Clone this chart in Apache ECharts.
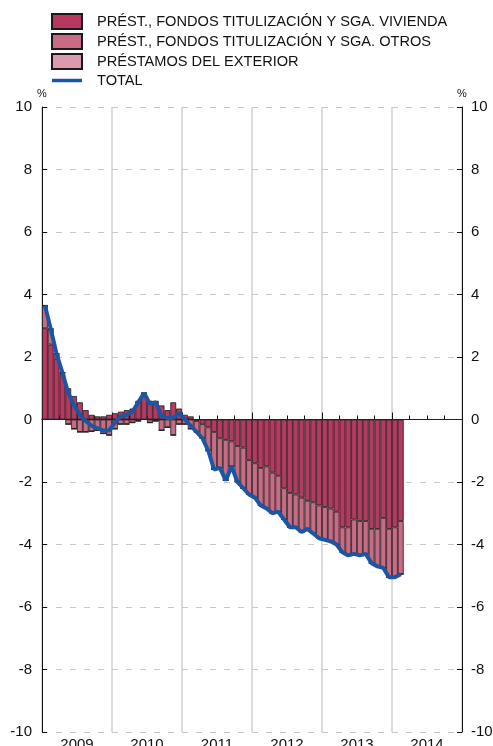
<!DOCTYPE html>
<html>
<head>
<meta charset="utf-8">
<script src="https://cdn.jsdelivr.net/npm/echarts@6/dist/echarts.min.js"></script>
<style>
html,body{margin:0;padding:0;background:#fff;}
#chart{width:493px;height:746px;}
</style>
</head>
<body>
<div id="chart"></div>
<script>
// ---- DATA ----
const years = ['2009', '2010', '2011', '2012', '2013', '2014'];
const months = [];
years.forEach(y => { for (let m = 1; m <= 12; m++) months.push(y + '-' + (m < 10 ? '0' + m : m)); });

const vivienda = [
  2.92, 2.40, 1.95, 1.45, 1.00, 0.75, 0.55, 0.30, 0.15, 0.10, 0.10, 0.15,
  0.20, 0.25, 0.30, 0.35, 0.60, 0.75, 0.60, 0.60, 0.45, 0.30, 0.55, 0.35,
  0.15, 0.10, -0.05, -0.15, -0.25, -0.40, -0.60, -0.65, -0.70, -0.85, -0.90, -1.30,
  -1.40, -1.55, -1.50, -1.70, -1.80, -2.20, -2.35, -2.40, -2.50, -2.60, -2.65, -2.75,
  -2.80, -2.85, -2.95, -3.45, -3.45, -3.20, -3.25, -3.25, -3.50, -3.50, -3.15, -3.50,
  -3.45, -3.25
];
const otros = [
  0.73, 0.50, 0.15, 0.05, -0.15, -0.30, -0.40, -0.40, -0.38, -0.35, -0.45, -0.50,
  -0.30, -0.15, -0.15, -0.10, -0.05, 0.10, -0.10, -0.05, -0.35, -0.25, -0.50, -0.15,
  -0.15, -0.30, -0.35, -0.45, -0.75, -1.20, -0.95, -1.30, -0.80, -1.15, -1.30, -1.10,
  -1.10, -1.20, -1.35, -1.30, -1.15, -1.00, -1.10, -1.05, -1.10, -0.90, -1.00, -1.05,
  -1.05, -1.05, -1.05, -0.80, -0.90, -1.10, -1.10, -1.05, -1.10, -1.20, -1.60, -1.55,
  -1.60, -1.70
];
const exterior = [
  0, 0, 0, 0, 0, 0, 0, 0, 0, 0, 0, 0,
  0, 0, 0, 0, 0, 0, 0, 0, 0, 0, 0, 0,
  0, 0, 0, 0, 0, 0, 0, 0, 0, 0, 0, 0,
  0, 0, 0, 0, 0, 0, 0, 0, 0, 0, 0, 0,
  0, 0, 0, 0, 0, 0, 0, 0, 0, 0, 0, 0,
  0, 0
];
const total = [
  3.65, 2.90, 2.10, 1.50, 0.85, 0.45, 0.15, -0.05, -0.20, -0.28, -0.35, -0.35,
  -0.10, 0.10, 0.15, 0.25, 0.55, 0.85, 0.50, 0.55, 0.10, 0.05, 0.05, 0.20,
  0.00, -0.20, -0.40, -0.60, -1.00, -1.60, -1.55, -1.95, -1.50, -2.00, -2.20, -2.40,
  -2.50, -2.75, -2.85, -3.00, -2.95, -3.20, -3.45, -3.45, -3.60, -3.50, -3.65, -3.80,
  -3.85, -3.90, -4.00, -4.25, -4.35, -4.30, -4.35, -4.30, -4.60, -4.70, -4.75, -5.05,
  -5.05, -4.95
];
const seriesNames = [
  'PRÉST., FONDOS TITULIZACIÓN Y SGA. VIVIENDA',
  'PRÉST., FONDOS TITULIZACIÓN Y SGA. OTROS',
  'PRÉSTAMOS DEL EXTERIOR',
  'TOTAL'
];
const yTicks = { min: -10, max: 10, step: 2 };

// ---- CHART ----
const FONT = "'Liberation Sans', Arial, Helvetica, sans-serif";
const chart = echarts.init(document.getElementById('chart'), null, { renderer: 'canvas' });

const yAxisBase = {
  type: 'value', min: yTicks.min, max: yTicks.max, interval: yTicks.step,
  axisLine: { show: true, lineStyle: { color: '#111', width: 1 } },
  axisTick: { show: true, inside: true, length: 5, lineStyle: { color: '#111' } },
  axisLabel: { fontSize: 15, color: '#111', fontFamily: FONT },
  name: '%', nameLocation: 'end', nameGap: 4,
  nameTextStyle: { fontSize: 11, color: '#111', fontFamily: FONT }
};

const barStyle = (color) => ({ color: color, borderColor: '#1a1a1a', borderWidth: 0.8 });

const option = {
  animation: false,
  textStyle: { fontFamily: FONT },
  legend: {
    orient: 'vertical', left: 46, top: 8,
    itemWidth: 30, itemHeight: 15, itemGap: 3,
    textStyle: { fontSize: 14.6, color: '#111', fontFamily: FONT, padding: [0, 0, 0, 10] },
    data: [
      { name: seriesNames[0], icon: 'rect' },
      { name: seriesNames[1], icon: 'rect' },
      { name: seriesNames[2], icon: 'rect' },
      { name: seriesNames[3], icon: 'path://M0,0 L30,0 L30,3.5 L0,3.5 Z', itemStyle: { color: '#1b55a3', borderWidth: 0 } }
    ]
  },
  grid: { left: 42, right: 31, top: 107, bottom: 14, containLabel: false, outerBoundsMode: 'none' },
  xAxis: [
    {
      type: 'category', data: months, boundaryGap: true, position: 'bottom',
      axisLine: { show: true, lineStyle: { color: '#111', width: 1 } },
      axisTick: { show: true, inside: true, length: 4, interval: function (i) { return i % 3 === 0 && i % 12 !== 0; }, lineStyle: { color: '#111' } },
      axisLabel: { show: false },
      splitLine: { show: false }
    },
    {
      type: 'category', data: years, boundaryGap: true, position: 'bottom',
      axisLine: { show: true, lineStyle: { color: '#111', width: 1 } },
      axisTick: { show: true, inside: true, length: 7, interval: 0, lineStyle: { color: '#111' } },
      axisLabel: { show: true, interval: 0, fontSize: 15, color: '#111', margin: 5, fontFamily: FONT, hideOverlap: false },
      splitLine: { show: true, interval: 0, lineStyle: { color: '#cfcfcf', width: 1.5 } }
    }
  ],
  yAxis: [
    Object.assign({}, yAxisBase, {
      position: 'left',
      axisLabel: Object.assign({}, yAxisBase.axisLabel, { margin: 10 }),
      splitLine: { show: true, lineStyle: { color: '#c8c8c8', width: 1, type: [6, 8] } }
    }),
    Object.assign({}, yAxisBase, {
      position: 'right',
      axisLabel: Object.assign({}, yAxisBase.axisLabel, { margin: 9 }),
      splitLine: { show: false }
    })
  ],
  series: [
    {
      name: seriesNames[0], type: 'bar', stack: 'a', data: vivienda,
      barCategoryGap: '0%', itemStyle: barStyle('#b8385f'),
      markLine: {
        silent: true, symbol: 'none', label: { show: false },
        lineStyle: { color: '#222', width: 1.2, type: 'solid' },
        data: [{ yAxis: 0 }]
      },
      z: 2
    },
    {
      name: seriesNames[1], type: 'bar', stack: 'a', data: otros,
      barCategoryGap: '0%', itemStyle: barStyle('#c96b84'), z: 2
    },
    {
      name: seriesNames[2], type: 'bar', stack: 'a', data: exterior,
      barCategoryGap: '0%', itemStyle: barStyle('#dd9aaf'), z: 2
    },
    {
      name: seriesNames[3], type: 'line', data: total,
      symbol: 'none', showSymbol: false,
      lineStyle: { color: '#1b55a3', width: 4 },
      itemStyle: { color: '#1b55a3' },
      z: 5
    }
  ]
};
chart.setOption(option);
</script>
</body>
</html>
